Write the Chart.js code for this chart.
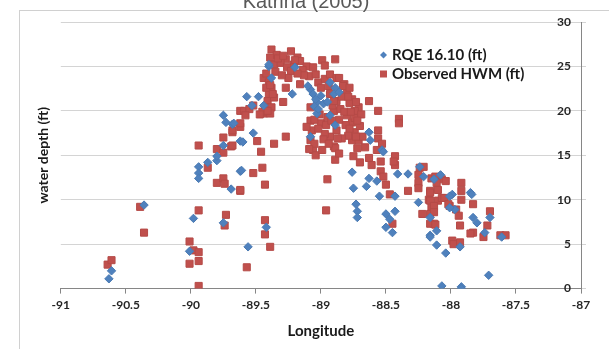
<!DOCTYPE html>
<html>
<head>
<meta charset="utf-8">
<script src="https://cdn.jsdelivr.net/npm/chart.js@4.4.1/dist/chart.umd.min.js"></script>
<style>
  html, body { margin: 0; padding: 0; background: #fff; }
  #wrap { width: 609px; height: 349px; }
</style>
</head>
<body>
<div id="wrap"><canvas id="chart" width="609" height="349"></canvas></div>
<script>
// Katrina (2005) - profundidade da agua por longitude

// RQE 16.10 (ft)
const rqeLon = [
  -90.63, -90.61, -90.36, -89.98, -90.01, -89.94, -89.94, -89.94, -89.87, -89.80,
  -89.80, -89.75, -89.73, -89.68, -89.75, -89.69, -89.75, -89.62, -89.62, -89.57,
  -89.48, -89.53, -89.44, -89.67, -89.52, -89.60, -89.61, -89.22, -89.40, -89.38,
  -89.20, -89.08, -89.06, -89.00, -89.03, -89.04, -88.98, -88.93, -88.89, -88.90,
  -89.03, -88.93, -88.89, -89.08, -88.86, -88.63, -88.62, -88.53, -88.76, -88.75,
  -88.65, -88.63, -88.57, -88.55, -88.41, -88.33, -88.25, -88.73, -88.72, -88.72,
  -88.50, -88.47, -88.43, -88.50, -88.45, -88.16, -88.11, -88.13, -87.99, -87.97,
  -87.85, -87.83, -87.80, -87.70, -87.74, -88.16, -88.11, -88.04, -87.93, -87.71,
  -87.61, -88.07, -87.92, -87.92, -89.56, -88.52, -88.43, -88.24, -88.21, -88.16,
  -88.01, -88.01, -87.84, -88.08, -89.05, -89.02, -89.10, -88.95, -89.42, -89.40
];
const rqeDepth = [
  1.1, 2.0, 9.4, 7.9, 4.2, 13.7, 13.0, 12.4, 14.2, 14.4,
  14.9, 19.5, 18.7, 18.5, 16.1, 11.2, 7.4, 16.6, 13.2, 21.6,
  21.6, 20.6, 20.6, 18.6, 17.5, 16.5, 13.3, 21.9, 25.0, 23.7,
  24.9, 22.4, 21.9, 21.7, 21.0, 21.3, 20.8, 23.2, 22.6, 21.9,
  19.7, 19.5, 18.4, 17.1, 22.1, 17.6, 16.7, 15.6, 13.1, 11.3,
  11.5, 12.4, 12.1, 10.4, 12.9, 12.9, 9.7, 9.5, 8.7, 8.0,
  8.4, 7.8, 8.7, 6.9, 6.3, 6.0, 6.5, 12.3, 10.6, 8.9,
  10.8, 8.0, 7.4, 8.0, 6.3, 5.8, 4.9, 4.0, 4.7, 1.5,
  5.8, 0.3, 0.2, 0.0, 4.7, 15.4, 10.4, 13.7, 12.6, 8.0,
  10.4, 9.1, 10.6, 12.8, 20.5, 20.2, 22.8, 21.0, 6.9, 25.2
];

// Observed HWM (ft)
const hwmLon = [
  -90.64, -90.61, -90.39, -90.36, -89.94, -89.94, -90.01, -89.98, -89.94, -90.01,
  -89.94, -89.94, -89.87, -89.80, -89.75, -89.75, -89.69, -89.68, -89.62, -89.62,
  -89.80, -89.75, -89.74, -89.73, -89.74, -89.62,
  -89.38, -89.34, -89.23, -89.18, -89.16, -89.11, -89.06, -88.99, -88.89, -89.27,
  -89.39, -89.36, -89.31, -89.21, -89.26, -89.44, -89.40, -89.38, -89.40, -89.41,
  -89.43, -89.44, -89.38, -89.36, -89.27, -89.25, -89.16, -89.29, -89.23, -89.09,
  -89.04, -89.02, -88.97, -88.93, -88.94, -88.88, -89.59, -89.55, -89.52, -89.58,
  -89.45, -89.39, -89.62, -89.68, -89.68, -89.49, -89.46, -89.36, -89.27, -89.52,
  -89.45, -89.43, -89.62, -88.95, -89.08, -89.07, -89.08, -89.06, -89.04, -88.99,
  -89.00, -88.95, -88.90, -88.93, -88.90, -88.97, -89.11, -88.88, -88.91, -88.88,
  -88.93, -89.00, -88.97,
  -88.86, -88.80, -88.76, -88.71, -88.90, -88.85, -88.80, -88.76, -88.81, -88.74,
  -88.76, -88.71, -88.72, -88.63, -88.56, -88.40, -88.40, -88.56, -88.56, -88.53,
  -88.57, -88.63, -88.61, -88.54, -88.54, -88.52, -88.43, -88.43, -88.50, -88.47,
  -88.89, -88.89, -88.33, -88.24, -88.21, -88.25, -88.25, -88.15, -88.16, -88.17,
  -88.15, -88.16, -88.45, -88.10,
  -88.12, -88.07, -88.04, -88.11, -88.10, -88.16, -88.16, -88.13, -88.13, -88.13,
  -88.07, -88.05, -88.01, -87.96, -87.94, -87.92, -87.92, -87.92, -87.93, -87.83,
  -87.70, -87.72, -87.75, -87.83, -87.85, -87.99, -87.98, -87.93, -87.62, -87.58,
  -88.22, -88.16, -88.12,
  -89.57, -88.44, -88.25, -88.02, -88.96, -89.43, -89.43, -89.39, -88.84, -88.78,
  -88.82, -88.74, -88.70, -88.79, -88.84, -88.68, -88.75, -88.70, -88.66, -88.82,
  -89.01, -89.05,
  -89.33, -89.29, -89.20, -89.14, -89.13, -89.35, -89.42, -89.30, -89.18, -89.42,
  -89.37, -89.39, -89.41, -89.47, -89.08, -89.05, -89.02, -88.98, -88.96, -88.92,
  -88.94, -89.09, -88.86, -88.87, -88.86, -88.83, -88.78, -88.73, -88.79, -88.74,
  -88.69, -88.77, -88.72, -88.78, -88.73
];
const hwmDepth = [
  2.7, 3.2, 9.2, 6.3, 16.1, 8.8, 5.3, 4.3, 4.1, 2.8,
  3.1, 0.3, 13.6, 15.7, 15.3, 17.0, 16.0, 17.6, 20.0, 18.2,
  11.9, 12.4, 11.8, 8.3, 7.1, 11.0,
  26.9, 26.3, 26.7, 26.0, 25.6, 25.0, 24.9, 25.7, 25.8, 25.8,
  26.0, 25.2, 25.4, 25.2, 24.9, 23.7, 23.2, 22.6, 21.9, 21.1,
  20.4, 19.7, 20.4, 21.5, 22.6, 23.7, 23.0, 21.0, 24.5, 23.9,
  24.1, 23.2, 23.6, 24.1, 22.8, 23.7, 20.0, 20.2, 20.6, 19.5,
  19.9, 19.7, 18.6, 17.8, 16.1, 16.6, 15.4, 16.3, 17.1, 13.0,
  13.6, 11.7, 11.1, 12.3, 18.9, 17.8, 16.7, 15.6, 15.0, 15.6,
  18.6, 19.3, 20.0, 17.1, 16.0, 17.4, 18.2, 21.1, 20.6, 17.8,
  21.9, 22.6, 25.1,
  23.7, 22.1, 21.3, 20.4, 21.1, 20.2, 19.5, 18.7, 18.4, 17.6,
  16.7, 16.7, 15.8, 21.1, 20.0, 19.1, 18.6, 17.8, 16.9, 16.3,
  15.6, 14.7, 13.9, 14.3, 13.2, 12.6, 14.9, 13.9, 11.7, 10.6,
  15.8, 14.5, 11.0, 13.6, 13.7, 12.8, 11.9, 12.4, 11.0, 10.0,
  9.1, 8.4, 7.3, 9.9,
  12.6, 12.3, 12.1, 11.9, 11.1, 10.8, 9.9, 9.3, 8.6, 7.3,
  10.2, 10.2, 9.3, 8.9, 8.2, 11.9, 11.0, 10.0, 7.1, 9.5,
  8.7, 7.1, 5.8, 6.3, 6.2, 5.4, 5.0, 5.2, 6.0, 6.0,
  8.4, 7.3, 7.2,
  2.4, 14.3, 11.3, 9.5, 8.8, 7.7, 6.1, 4.7, 21.6, 20.9,
  19.9, 19.2, 18.3, 17.2, 16.9, 17.1, 14.9, 14.2, 15.9, 23.0,
  19.6, 16.3,
  25.9, 26.2, 25.7, 24.6, 24.0, 24.4, 24.2, 24.0, 24.2, 22.6,
  21.9, 22.9, 20.0, 19.6, 20.4, 19.0, 18.0, 16.8, 18.4, 18.9,
  16.3, 15.7, 19.0, 16.9, 15.2, 22.8, 22.6, 21.0, 21.6, 20.0,
  19.6, 19.9, 18.9, 18.0, 17.1
];

const seriesNames = ['RQE 16.10 (ft)', 'Observed HWM (ft)'];
const lonTicks = [-91, -90.5, -90, -89.5, -89, -88.5, -88, -87.5, -87];
const depthTicks = [0, 5, 10, 15, 20, 25, 30];

const BLUE = '#4F81BD';
const RED = '#C0504D';
const FONT = 'Lato, "Open Sans", sans-serif';

function toPoints(xs, ys) {
  return xs.map((x, i) => ({ x: x, y: ys[i] }));
}

// Moldura, titulo e legenda desenhados a mao
const decorPlugin = {
  id: 'decor',
  beforeDraw(chart) {
    const ctx = chart.ctx;
    ctx.save();
    ctx.fillStyle = '#fff';
    ctx.fillRect(0, 0, chart.width, chart.height);
    ctx.strokeStyle = '#d0d0d0';
    ctx.lineWidth = 1;
    ctx.strokeRect(19.5, 10.5, 700, 400);
    ctx.fillStyle = '#595959';
    ctx.font = '20px "Liberation Sans", Arial, sans-serif';
    ctx.textAlign = 'center';
    ctx.textBaseline = 'alphabetic';
    ctx.fillText('Katrina (2005)', 306, 8);
    ctx.restore();
  },
  afterDraw(chart) {
    const ctx = chart.ctx;
    ctx.save();
    ctx.font = 'bold 15px ' + FONT;
    ctx.textBaseline = 'middle';
    ctx.textAlign = 'left';
    // diamante
    ctx.fillStyle = BLUE;
    ctx.beginPath();
    ctx.moveTo(383.5, 51.5);
    ctx.lineTo(387, 55);
    ctx.lineTo(383.5, 58.5);
    ctx.lineTo(380, 55);
    ctx.closePath();
    ctx.fill();
    // quadrado
    ctx.fillStyle = RED;
    ctx.fillRect(380, 70.5, 7, 7);
    ctx.fillStyle = '#1a1a1a';
    ctx.fillText(seriesNames[0], 392, 55);
    ctx.fillText(seriesNames[1], 392, 74);
    ctx.restore();
  }
};

const ctx = document.getElementById('chart').getContext('2d');
new Chart(ctx, {
  type: 'scatter',
  data: {
    datasets: [
      {
        label: seriesNames[0],
        data: toPoints(rqeLon, rqeDepth),
        pointStyle: 'rectRot',
        pointRadius: 4.2,
        backgroundColor: BLUE,
        borderColor: '#4A7AB3',
        borderWidth: 1,
        yAxisID: 'y'
      },
      {
        label: seriesNames[1],
        data: toPoints(hwmLon, hwmDepth),
        pointStyle: 'rect',
        pointRadius: 5,
        backgroundColor: RED,
        borderColor: '#B54A47',
        borderWidth: 1,
        yAxisID: 'y'
      }
    ]
  },
  options: {
    responsive: false,
    animation: false,
    events: [],
    layout: { padding: { left: 35, right: 28, top: 22, bottom: 8 } },
    plugins: {
      legend: { display: false },
      title: { display: false },
      tooltip: { enabled: false }
    },
    scales: {
      x: {
        type: 'linear',
        min: lonTicks[0],
        max: lonTicks[lonTicks.length - 1],
        afterBuildTicks(scale) {
          scale.ticks = lonTicks.map(v => ({ value: v }));
        },
        grid: { drawOnChartArea: false, drawTicks: true, tickLength: 5, color: '#868686' },
        border: { color: '#868686', width: 1 },
        ticks: {
          color: '#262626',
          padding: 4,
          font: { family: FONT, size: 12, weight: 'bold' },
          callback: v => String(v)
        },
        title: {
          display: true,
          text: 'Longitude',
          color: '#1a1a1a',
          font: { family: FONT, size: 15, weight: 'bold' },
          padding: { top: 6, bottom: 1 }
        }
      },
      y: {
        type: 'linear',
        position: 'right',
        min: depthTicks[0],
        max: depthTicks[depthTicks.length - 1],
        afterBuildTicks(scale) {
          scale.ticks = depthTicks.map(v => ({ value: v }));
        },
        grid: { color: '#d4d4d4', drawTicks: true, tickLength: 5 },
        border: { color: '#868686', width: 1 },
        ticks: {
          mirror: true,
          padding: -10,
          color: '#262626',
          font: { family: FONT, size: 12, weight: 'bold' }
        }
      },
      yTitle: {
        type: 'linear',
        position: 'left',
        min: 0,
        max: 30,
        grid: { display: false },
        border: { display: false },
        ticks: { display: false },
        title: {
          display: true,
          text: 'water depth (ft)',
          color: '#1a1a1a',
          font: { family: FONT, size: 14, weight: 'bold' },
          padding: { top: 0, bottom: 1 }
        }
      }
    }
  },
  plugins: [decorPlugin]
});
</script>
</body>
</html>
